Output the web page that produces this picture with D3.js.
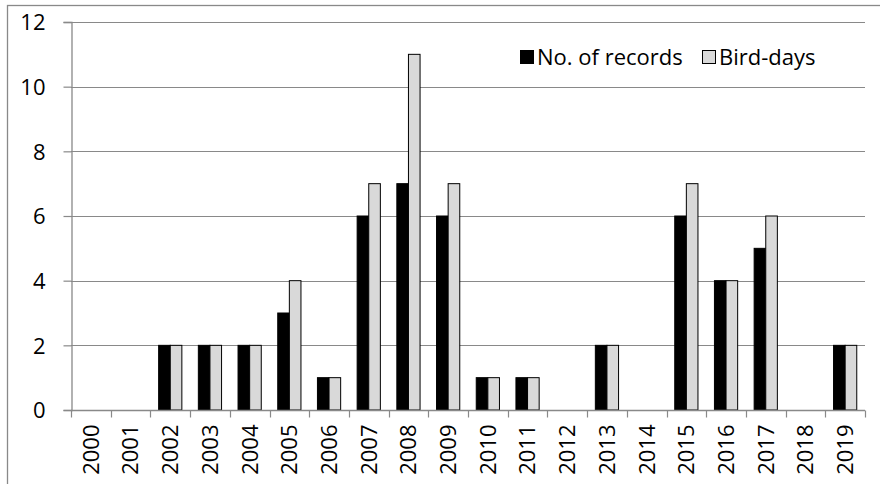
<!DOCTYPE html>
<html>
<head>
<meta charset="utf-8">
<script src="https://cdn.jsdelivr.net/npm/d3@7/dist/d3.min.js"></script>
<style>
  html, body { margin: 0; padding: 0; background: #fff; }
  svg { display: block; }
  text { font-family: "Open Sans", "Liberation Sans", sans-serif; fill: #000; }
</style>
</head>
<body>
<svg id="chart" width="880" height="484"></svg>
<script>
// Yearly counts per season
const years = ["2000","2001","2002","2003","2004","2005","2006","2007","2008","2009",
               "2010","2011","2012","2013","2014","2015","2016","2017","2018","2019"];
const records  = [0,0,2,2,2,3,1,6,7,6,1,1,0,2,0,6,4,5,0,2];
const birdDays = [0,0,2,2,2,4,1,7,11,7,1,1,0,2,0,7,4,6,0,2];
const seriesNames = ["No. of records", "Bird-days"];
const yTicks = [0,2,4,6,8,10,12];

const svg = d3.select("#chart");
const gridColor = "#898989";
const fills = ["#000000", "#d9d9d9"];
const fontSize = 22;

// outer chart frame (extends past the right/bottom edges)
svg.append("rect")
  .attr("x", 7.5).attr("y", 5.5)
  .attr("width", 900).attr("height", 520)
  .attr("fill", "none").attr("stroke", gridColor).attr("stroke-width", 1.3);

const plot = { left: 71, right: 865, top: 22, bottom: 410 };

const x = d3.scaleBand().domain(years).range([plot.left, plot.right]).padding(0);
const xs = d3.scaleBand().domain(seriesNames).range([0, x.bandwidth()])
  .paddingInner(0).paddingOuter(0.71);
const y = d3.scaleLinear().domain([0, 12]).range([plot.bottom, plot.top]);

// horizontal gridlines
svg.append("g").selectAll("line").data(yTicks.filter(t => t > 0)).join("line")
  .attr("x1", plot.left).attr("x2", plot.right)
  .attr("y1", d => Math.round(y(d)) + 0.5).attr("y2", d => Math.round(y(d)) + 0.5)
  .attr("stroke", gridColor).attr("stroke-width", 1.2);

// bars
const rows = years.map((yr, i) => ({ year: yr, vals: [records[i], birdDays[i]] }));
const groups = svg.append("g").selectAll("g").data(rows).join("g")
  .attr("transform", d => `translate(${x(d.year)},0)`);
groups.selectAll("rect")
  .data(d => d.vals.map((v, k) => ({ name: seriesNames[k], v, k })).filter(e => e.v > 0))
  .join("rect")
  .attr("x", e => xs(e.name))
  .attr("width", xs.bandwidth())
  .attr("y", e => y(e.v))
  .attr("height", e => y(0) - y(e.v))
  .attr("fill", e => fills[e.k])
  .attr("stroke", "#000").attr("stroke-width", 1);

// y axis
const yAxis = svg.append("g").attr("transform", `translate(${plot.left + 0.5},0)`)
  .call(d3.axisLeft(y).tickValues(yTicks).tickSize(8).tickPadding(18).tickFormat(d3.format("d")));
yAxis.select(".domain").attr("stroke", gridColor).attr("stroke-width", 1.3);
yAxis.selectAll(".tick line").attr("stroke", gridColor).attr("stroke-width", 1.2);
yAxis.selectAll(".tick text").attr("font-size", fontSize).style("font-family", "'Open Sans', sans-serif")
  .attr("dy", "0.36em");

// x axis with boundary ticks between categories
const xAxisG = svg.append("g").attr("transform", `translate(0,${plot.bottom + 0.5})`);
xAxisG.append("line")
  .attr("x1", plot.left).attr("x2", plot.right)
  .attr("stroke", gridColor).attr("stroke-width", 1.3);
const bounds = years.map(yr => x(yr)).concat([plot.right]);
xAxisG.selectAll("line.tk").data(bounds).join("line").attr("class", "tk")
  .attr("x1", d => Math.round(d) + 0.5).attr("x2", d => Math.round(d) + 0.5)
  .attr("y1", 0).attr("y2", 7)
  .attr("stroke", gridColor).attr("stroke-width", 1.2);
xAxisG.selectAll("text").data(years).join("text")
  .attr("transform", d => `translate(${x(d) + x.bandwidth() / 2},${14}) rotate(-90)`)
  .attr("text-anchor", "end")
  .attr("dy", "0.36em")
  .attr("font-size", fontSize)
  .text(d => d);

// legend
const legend = svg.append("g").attr("transform", "translate(520,50)");
const items = [
  { name: seriesNames[0], fill: fills[0], x: 0 },
  { name: seriesNames[1], fill: fills[1], x: 182 }
];
const li = legend.selectAll("g").data(items).join("g")
  .attr("transform", d => `translate(${d.x},0)`);
li.append("rect")
  .attr("x", 0.5).attr("y", 0.5).attr("width", 13).attr("height", 13)
  .attr("fill", d => d.fill).attr("stroke", "#000").attr("stroke-width", 1);
li.append("text")
  .attr("x", 17).attr("y", 14.5)
  .attr("font-size", fontSize)
  .text(d => d.name);
</script>
</body>
</html>
